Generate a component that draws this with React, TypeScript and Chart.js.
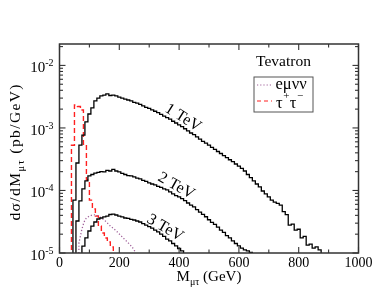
import React, { useEffect, useRef } from "react";
import { Chart, registerables } from "chart.js";

Chart.register(...registerables);

// ---------------- data ----------------
const BIN_WIDTH = 10; // GeV
const FLOOR = 1e-7; // "zero" on the log axis (below the frame)

const tev1Start = 45;
const tev1 = [
  7.0e-5, 2.75e-4, 5.3e-4, 7.7e-4, 1.25e-3, 1.67e-3, 2.1e-3, 2.7e-3, 3.0e-3, 3.25e-3,
  3.35e-3, 3.5e-3, 3.3e-3, 3.35e-3, 3.25e-3, 3.1e-3, 3.0e-3, 2.9e-3, 2.8e-3, 2.7e-3,
  2.56e-3, 2.5e-3, 2.38e-3, 2.25e-3, 2.13e-3, 2.05e-3, 1.94e-3, 1.85e-3, 1.76e-3, 1.65e-3,
  1.55e-3, 1.46e-3, 1.38e-3, 1.28e-3, 1.2e-3, 1.12e-3, 1.05e-3, 9.7e-4, 9.0e-4, 8.3e-4,
  7.8e-4, 7.2e-4, 6.6e-4, 6.1e-4, 5.7e-4, 5.3e-4, 4.9e-4, 4.55e-4, 4.2e-4, 3.9e-4,
  3.6e-4, 3.35e-4, 3.1e-4, 2.9e-4, 2.65e-4, 2.45e-4, 2.25e-4, 2.05e-4, 1.8e-4, 1.6e-4,
  1.42e-4, 1.27e-4, 1.14e-4, 9.8e-5, 8.8e-5, 7.9e-5, 7.0e-5, 6.5e-5, 6.2e-5, 5.85e-5,
  4.6e-5, 4.1e-5, 2.8e-5, 2.9e-5, 2.33e-5, 2.4e-5, 1.74e-5, 1.84e-5, 1.34e-5, 1.39e-5,
  1.2e-5, 1.25e-5, 1.12e-5,
];

const tev2Start = 55;
const tev2 = [
  3.25e-5, 6.8e-5, 1.06e-4, 1.42e-4, 1.71e-4, 1.8e-4, 1.9e-4, 1.94e-4, 2.0e-4, 1.98e-4,
  2.1e-4, 2.05e-4, 2.17e-4, 2.05e-4, 1.98e-4, 1.87e-4, 1.8e-4, 1.73e-4, 1.71e-4, 1.65e-4,
  1.58e-4, 1.53e-4, 1.45e-4, 1.4e-4, 1.32e-4, 1.27e-4, 1.23e-4, 1.16e-4, 1.12e-4, 1.06e-4,
  1.02e-4, 9.5e-5, 8.8e-5, 8.3e-5, 7.9e-5, 7.4e-5, 6.9e-5, 6.3e-5, 5.85e-5, 5.45e-5,
  4.95e-5, 4.5e-5, 4.15e-5, 3.8e-5, 3.4e-5, 3.1e-5, 2.86e-5, 2.6e-5, 2.33e-5, 2.13e-5,
  1.9e-5, 1.74e-5, 1.56e-5, 1.42e-5, 1.3e-5, 1.2e-5, 1.12e-5, 1.08e-5, 1.02e-5,
];

const tev3Start = 75;
const tev3 = [
  1.29e-5, 1.74e-5, 2.25e-5, 2.7e-5, 3.13e-5, 3.5e-5, 3.63e-5, 3.77e-5, 3.9e-5, 4.13e-5,
  4.2e-5, 4.05e-5, 3.9e-5, 3.77e-5, 3.63e-5, 3.57e-5, 3.44e-5, 3.37e-5, 3.25e-5, 3.13e-5,
  2.96e-5, 2.8e-5, 2.65e-5, 2.5e-5, 2.33e-5, 2.17e-5, 2.0e-5, 1.84e-5, 1.67e-5, 1.56e-5,
  1.42e-5, 1.3e-5, 1.18e-5, 1.08e-5,
];

const tautauStart = 40;
const tautau = [
  5.3e-4, 2.33e-3, 2.2e-3, 1.94e-3, 5.5e-4, 1.47e-4, 7.0e-5, 5.06e-5, 3.9e-5, 2.7e-5,
  2.09e-5, 1.74e-5, 1.5e-5, 1.25e-5,
];

const emununuX = [63, 65, 70, 75, 80, 85, 90, 100, 110, 120, 130, 140, 150, 160, 170, 180, 190, 200, 210, 220, 230, 240, 250, 256];
const emununuY = [
  1e-7, 1.45e-5, 1.87e-5, 2.42e-5, 2.91e-5, 3.37e-5, 3.63e-5, 3.9e-5, 4.06e-5, 4.06e-5,
  3.9e-5, 3.63e-5, 3.37e-5, 3.02e-5, 2.7e-5, 2.47e-5, 2.25e-5, 2.01e-5, 1.8e-5, 1.61e-5,
  1.45e-5, 1.29e-5, 1.12e-5, 9.0e-6,
];

const xMin = 0;
const xMax = 1000;
const xMajorTicks = [0, 200, 400, 600, 800, 1000];
const xMinorTicks = [100, 300, 500, 700, 900];
const yMin = 1e-5;
const yMax = 0.022;
const yDecadeExponents = [-5, -4, -3, -2];

const curveLabels = [
  { text: "1 TeV", x: 413, y: 1.45e-3, angle: 32 },
  { text: "2 TeV", x: 390, y: 1.18e-4, angle: 29 },
  { text: "3 TeV", x: 353, y: 2.51e-5, angle: 30 },
];

// ---------------- helpers ----------------
const SERIF = '"Liberation Serif", "Times New Roman", serif';

function histPoints(start: number, vals: number[]) {
  const pts = [{ x: start, y: FLOOR }];
  vals.forEach((v, i) => pts.push({ x: start + i * BIN_WIDTH, y: v }));
  pts.push({ x: start + vals.length * BIN_WIDTH, y: FLOOR });
  return pts;
}

type Part = { t: string; size: number; dy: number };

function partWidth(ctx: CanvasRenderingContext2D, p: Part, spacing: number) {
  ctx.font = `${p.size}px ${SERIF}`;
  let w = 0;
  for (const ch of Array.from(p.t)) w += ctx.measureText(ch).width + spacing;
  return w;
}

function drawRich(
  ctx: CanvasRenderingContext2D,
  parts: Part[],
  x: number,
  y: number,
  align: "left" | "center" | "right",
  spacing = 0
) {
  let w = 0;
  for (const p of parts) w += partWidth(ctx, p, spacing);
  if (spacing) w -= spacing;
  let cx = align === "left" ? x : align === "center" ? x - w / 2 : x - w;
  ctx.textAlign = "left";
  ctx.textBaseline = "alphabetic";
  for (const p of parts) {
    ctx.font = `${p.size}px ${SERIF}`;
    if (spacing) {
      for (const ch of Array.from(p.t)) {
        ctx.fillText(ch, cx, y + p.dy);
        cx += ctx.measureText(ch).width + spacing;
      }
    } else {
      ctx.fillText(p.t, cx, y + p.dy);
      cx += ctx.measureText(p.t).width;
    }
  }
}

const overlay = {
  id: "overlay",
  afterDraw(chart: any) {
    const { ctx, chartArea: a, scales } = chart;
    const xs = scales.x;
    const ys = scales.y;
    ctx.save();
    ctx.fillStyle = "#000";

    // frame
    ctx.strokeStyle = "#333";
    ctx.lineWidth = 1.5;
    ctx.strokeRect(a.left, a.top, a.right - a.left, a.bottom - a.top);

    const seg = (x1: number, y1: number, x2: number, y2: number) => {
      ctx.beginPath();
      ctx.moveTo(x1, y1);
      ctx.lineTo(x2, y2);
      ctx.stroke();
    };
    ctx.lineWidth = 1.1;

    // x ticks (inward, top & bottom)
    for (const v of xMajorTicks) {
      const px = xs.getPixelForValue(v);
      seg(px, a.bottom, px, a.bottom - 6);
      seg(px, a.top, px, a.top + 6);
    }
    for (const v of xMinorTicks) {
      const px = xs.getPixelForValue(v);
      seg(px, a.bottom, px, a.bottom - 3.5);
      seg(px, a.top, px, a.top + 3.5);
    }
    // y ticks (inward, left & right)
    for (const e of [...yDecadeExponents, -1]) {
      for (let m = 1; m <= 9; m++) {
        const val = m * Math.pow(10, e);
        if (val < yMin * 0.999 || val > yMax) continue;
        const py = ys.getPixelForValue(val);
        const len = m === 1 ? 6 : 3.5;
        seg(a.left, py, a.left + len, py);
        seg(a.right, py, a.right - len, py);
      }
    }

    // x tick labels
    ctx.font = `14px ${SERIF}`;
    ctx.textAlign = "center";
    ctx.textBaseline = "alphabetic";
    for (const v of xMajorTicks) {
      ctx.fillText(String(v), xs.getPixelForValue(v), a.bottom + 14);
    }

    // y tick labels 10^e
    for (const e of yDecadeExponents) {
      const py = ys.getPixelForValue(Math.pow(10, e));
      drawRich(
        ctx,
        [
          { t: "10", size: 15, dy: 0 },
          { t: String(e), size: 10, dy: -6 },
        ],
        a.left - 6,
        py + 7,
        "right"
      );
    }

    // x title
    drawRich(
      ctx,
      [
        { t: "M", size: 15, dy: 0 },
        { t: "\u03bc\u03c4", size: 10, dy: 4 },
        { t: " (GeV)", size: 15, dy: 0 },
      ],
      (a.left + a.right) / 2,
      a.bottom + 28,
      "center"
    );

    // y title
    ctx.save();
    ctx.translate(15, (a.top + a.bottom) / 2 + 4);
    ctx.rotate(-Math.PI / 2);
    drawRich(
      ctx,
      [
        { t: "d\u03c3/dM", size: 15.5, dy: 0 },
        { t: "\u03bc\u03c4", size: 10.5, dy: 4 },
        { t: " (pb/GeV)", size: 15.5, dy: 0 },
      ],
      0,
      5,
      "center",
      1.4
    );
    ctx.restore();

    // curve labels
    for (const l of curveLabels) {
      const px = xs.getPixelForValue(l.x);
      const py = ys.getPixelForValue(l.y);
      ctx.save();
      ctx.translate(px, py);
      ctx.rotate((l.angle * Math.PI) / 180);
      ctx.font = `16px ${SERIF}`;
      ctx.textAlign = "center";
      ctx.textBaseline = "middle";
      ctx.fillText(l.text, 0, 0);
      ctx.restore();
    }

    // "Tevatron" + legend box
    const lx = a.right - 104.5;
    const ly = a.top + 33;
    ctx.font = `15.5px ${SERIF}`;
    ctx.textAlign = "center";
    ctx.textBaseline = "alphabetic";
    ctx.fillText("Tevatron", lx + 29.5, a.top + 22);

    ctx.strokeStyle = "#555";
    ctx.lineWidth = 1;
    ctx.strokeRect(lx, ly, 59, 35);

    ctx.lineWidth = 1.2;
    ctx.strokeStyle = "#a0609a";
    ctx.setLineDash([1.2, 2]);
    seg(lx + 3, ly + 8, lx + 17, ly + 8);
    ctx.strokeStyle = "#ff2020";
    ctx.setLineDash([4, 3]);
    seg(lx + 3, ly + 24, lx + 18, ly + 24);
    ctx.setLineDash([]);

    drawRich(ctx, [{ t: "e\u03bc\u03bd\u03bd", size: 16.5, dy: 0 }], lx + 21.5, ly + 12, "left");
    drawRich(
      ctx,
      [
        { t: "\u03c4", size: 16.5, dy: 0 },
        { t: "+", size: 11, dy: -9 },
        { t: "\u03c4", size: 16.5, dy: 0 },
        { t: "\u2212", size: 11, dy: -9 },
      ],
      lx + 22,
      ly + 31,
      "left",
      0.5
    );

    ctx.restore();
  },
};

export default function App() {
  const ref = useRef<HTMLCanvasElement>(null);

  useEffect(() => {
    const canvas = ref.current!;
    const black = { borderColor: "#000", borderWidth: 1.3, pointRadius: 0, stepped: "before" as const, fill: false };
    const chart = new Chart(canvas, {
      type: "line",
      data: {
        datasets: [
          { label: "1 TeV", data: histPoints(tev1Start, tev1), ...black },
          { label: "2 TeV", data: histPoints(tev2Start, tev2), ...black },
          { label: "3 TeV", data: histPoints(tev3Start, tev3), ...black },
          {
            label: "e\u03bc\u03bd\u03bd",
            data: emununuX.map((x, i) => ({ x, y: emununuY[i] })),
            borderColor: "#a0609a",
            borderWidth: 1.3,
            borderDash: [1.2, 2],
            pointRadius: 0,
            fill: false,
          },
          {
            label: "\u03c4+\u03c4-",
            data: histPoints(tautauStart, tautau),
            borderColor: "#ff2020",
            borderWidth: 1.4,
            borderDash: [5, 3],
            pointRadius: 0,
            stepped: "before" as const,
            fill: false,
          },
        ],
      },
      options: {
        animation: false,
        responsive: false,
        maintainAspectRatio: false,
        layout: { padding: { left: 59.5, right: 28.5, top: 44, bottom: 46 } },
        plugins: { legend: { display: false }, tooltip: { enabled: false } },
        scales: {
          x: { type: "linear", min: xMin, max: xMax, display: false },
          y: { type: "logarithmic", min: yMin, max: yMax, display: false },
        },
      },
      plugins: [overlay],
    });
    return () => chart.destroy();
  }, []);

  return (
    <div style={{ position: "absolute", left: 0, top: 0, width: 387, height: 299, background: "#fff" }}>
      <canvas ref={ref} width={387} height={299} style={{ display: "block", width: 387, height: 299 }} />
    </div>
  );
}
